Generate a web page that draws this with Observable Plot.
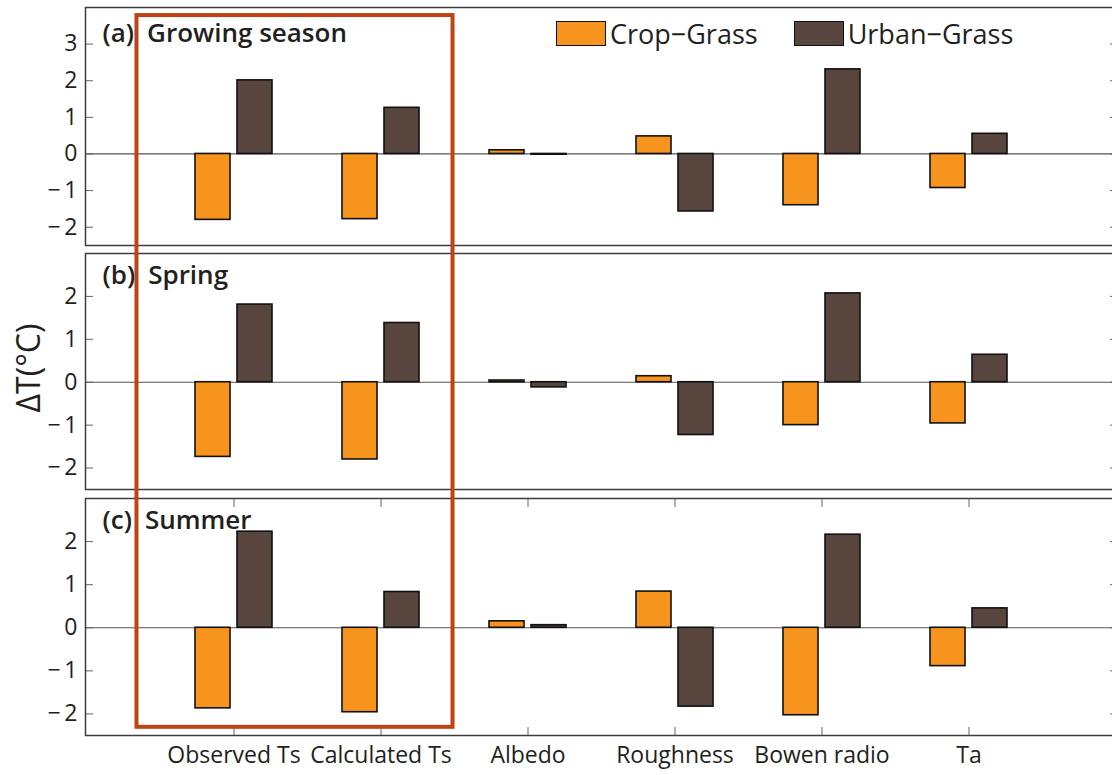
<!DOCTYPE html>
<html><head><meta charset="utf-8">
<script src="https://cdn.jsdelivr.net/npm/d3@7"></script>
<script src="https://cdn.jsdelivr.net/npm/@observablehq/plot@0.6"></script>
<style>
html,body{margin:0;padding:0;background:#fff;overflow:hidden;}
#wrap{position:relative;width:1120px;height:775px;overflow:hidden;font-family:"Open Sans",sans-serif;color:#231f20;}
#wrap svg{display:block;max-width:none !important;}
#overlay{position:absolute;left:0;top:0;pointer-events:none;}
.legend{position:absolute;left:556px;top:21px;display:flex;align-items:center;gap:36px;font-size:27px;line-height:25px;}
.legend .item{display:flex;align-items:center;}
.legend .sw{width:48px;height:23px;border:1.6px solid #111;margin-right:4px;}
</style></head><body><div id="wrap"></div>
<script>
// ---- data ----
const categories = ["Observed Ts", "Calculated Ts", "Albedo", "Roughness", "Bowen radio", "Ta"];
const seriesNames = ["Crop\u2212Grass", "Urban\u2212Grass"];
const seriesColors = ["#f7941d", "#58463e"];
const panelTitles = ["(a)\u2002Growing season", "(b)\u2002Spring", "(c)\u2002Summer"];
const growingCrop  = [-1.80, -1.78, 0.10, 0.48, -1.40, -0.93];
const growingUrban = [ 2.01,  1.26, -0.02, -1.57, 2.31, 0.55];
const springCrop   = [-1.74, -1.80, 0.04, 0.14, -1.00, -0.96];
const springUrban  = [ 1.81,  1.38, -0.12, -1.23, 2.07, 0.64];
const summerCrop   = [-1.87, -1.96, 0.15, 0.84, -2.03, -0.89];
const summerUrban  = [ 2.23,  0.83, 0.06, -1.83, 2.16, 0.45];
const yDomains = [[-2.5, 4], [-2.5, 3], [-2.5, 3]];
const yTicks = [[-2, -1, 0, 1, 2, 3], [-2, -1, 0, 1, 2], [-2, -1, 0, 1, 2]];
const yLabel = "\u0394T(\u00B0C)";
// highlighted group (annotation box)
const boxCategories = ["Observed Ts", "Calculated Ts"];
const boxValueTop = 3.78, boxValueBottom = -2.31;

const panelData = [[growingCrop, growingUrban], [springCrop, springUrban], [summerCrop, summerUrban]];
const layout = [
  {height: 246, mt: 7, mb: 1, titleDy: 16},
  {height: 244, mt: 7, mb: 1, titleDy: 12},
  {height: 285, mt: 8, mb: 40, titleDy: 12}
];

const wrap = document.getElementById("wrap");
const fmt = d => d < 0 ? "\u2212\u2009" + Math.abs(d) : String(d);
const charts = [];

panelData.forEach(([crop, urban], i) => {
  const cropRows = categories.map((c, j) => ({category: c, series: seriesNames[0], value: crop[j]}));
  const urbanRows = categories.map((c, j) => ({category: c, series: seriesNames[1], value: urban[j]}));
  const L = layout[i];
  const marks = [
    Plot.ruleY([0], {stroke: "#555", strokeWidth: 1.2}),
    Plot.barY(cropRows, {x: "category", y: "value", fill: seriesColors[0], stroke: "#111", strokeWidth: 1.6, insetRight: 42}),
    Plot.barY(urbanRows, {x: "category", y: "value", fill: seriesColors[1], stroke: "#111", strokeWidth: 1.6, insetLeft: 42}),
    Plot.axisY({anchor: "left", ticks: yTicks[i], tickSize: -8, tickPadding: 16, tickFormat: fmt, label: null, stroke: "#666", fontSize: 23}),
    Plot.axisY({anchor: "right", ticks: yTicks[i], tickSize: -8, tickFormat: () => "", label: null, stroke: "#666"}),
    Plot.text([panelTitles[i]], {frameAnchor: "top-left", dx: 17, dy: L.titleDy, lineAnchor: "top", textAnchor: "start", fontSize: 26, fontWeight: 600, fill: "#231f20"}),
    Plot.frame({stroke: "#3c3c3c", strokeWidth: 1.5})
  ];
  if (i === 2) {
    marks.push(
      Plot.axisX({anchor: "bottom", tickSize: -8, tickPadding: 19, label: null, stroke: "#666", fontSize: 23}),
      Plot.axisX({anchor: "top", tickSize: -8, tickFormat: () => "", label: null, stroke: "#666"})
    );
  }
  const chart = Plot.plot({
    width: 1120, height: L.height,
    marginLeft: 85, marginRight: 3, marginTop: L.mt, marginBottom: L.mb,
    style: {fontFamily: "Open Sans", fontSize: "23px", color: "#231f20", background: "transparent", maxWidth: "none", overflow: "visible"},
    x: {type: "band", domain: categories, paddingInner: 0.478, paddingOuter: 0.739, axis: null},
    y: {domain: yDomains[i], axis: null},
    marks
  });
  wrap.appendChild(chart);
  charts.push(chart);
});

// legend (inside panel a)
const legend = document.createElement("div");
legend.className = "legend";
seriesNames.forEach((s, k) => {
  const it = document.createElement("div");
  it.className = "item";
  const sw = document.createElement("div");
  sw.className = "sw";
  sw.style.background = seriesColors[k];
  const tx = document.createElement("span");
  tx.textContent = s;
  it.appendChild(sw); it.appendChild(tx);
  legend.appendChild(it);
});
wrap.appendChild(legend);

// overlay: y label + highlight box
const offsets = [0, layout[0].height, layout[0].height + layout[1].height];
const xs = charts[0].scale("x");
const ya = charts[0].scale("y");
const yc = charts[2].scale("y");
const c0 = xs.apply(boxCategories[0]) + xs.bandwidth / 2;
const c1 = xs.apply(boxCategories[1]) + xs.bandwidth / 2;
const bx0 = c0 - 0.66 * xs.step;
const bx1 = c1 + 0.49 * xs.step;
const by0 = offsets[0] + ya.apply(boxValueTop);
const by1 = offsets[2] + yc.apply(boxValueBottom);

const ns = "http://www.w3.org/2000/svg";
const ov = document.createElementNS(ns, "svg");
ov.setAttribute("id", "overlay");
ov.setAttribute("width", 1120);
ov.setAttribute("height", 775);
const rect = document.createElementNS(ns, "rect");
rect.setAttribute("x", bx0); rect.setAttribute("y", by0);
rect.setAttribute("width", bx1 - bx0); rect.setAttribute("height", by1 - by0);
rect.setAttribute("fill", "none"); rect.setAttribute("stroke", "#bf4413"); rect.setAttribute("stroke-width", 4);
ov.appendChild(rect);
const midY = (offsets[1] + offsets[1] + layout[1].height) / 2;
const lab = document.createElementNS(ns, "text");
lab.setAttribute("transform", `translate(40,${midY}) rotate(-90)`);
lab.setAttribute("text-anchor", "middle");
lab.setAttribute("font-size", 32);
lab.setAttribute("font-family", "Open Sans");
lab.setAttribute("fill", "#231f20");
lab.textContent = yLabel;
ov.appendChild(lab);
wrap.appendChild(ov);
</script>
</body></html>
